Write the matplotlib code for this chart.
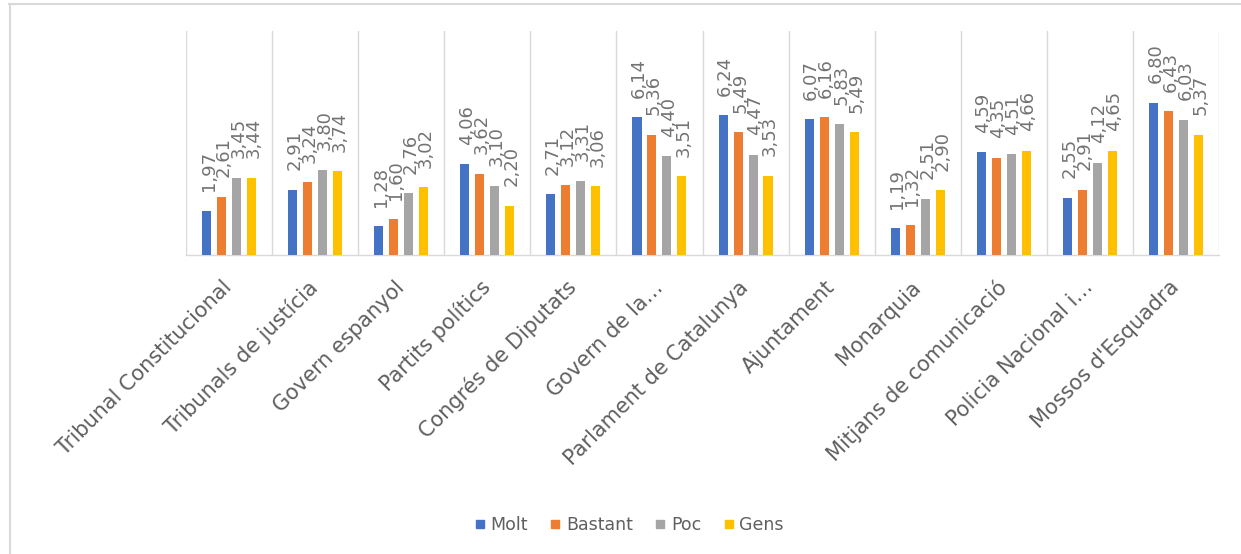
import matplotlib
matplotlib.use("Agg")
import matplotlib.pyplot as plt
from matplotlib.lines import Line2D
import numpy as np

categories = ["Tribunal Constitucional", "Tribunals de justícia", "Govern espanyol",
              "Partits polítics", "Congrés de Diputats", "Govern de la…",
              "Parlament de Catalunya", "Ajuntament", "Monarquia",
              "Mitjans de comunicació", "Policia Nacional i…", "Mossos d'Esquadra"]
series_names = ["Molt", "Bastant", "Poc", "Gens"]
molt = [1.97, 2.91, 1.28, 4.06, 2.71, 6.14, 6.24, 6.07, 1.19, 4.59, 2.55, 6.80]
bastant = [2.61, 3.24, 1.60, 3.62, 3.12, 5.36, 5.49, 6.16, 1.32, 4.35, 2.91, 6.43]
poc = [3.45, 3.80, 2.76, 3.10, 3.31, 4.40, 4.47, 5.83, 2.51, 4.51, 4.12, 6.03]
gens = [3.44, 3.74, 3.02, 2.20, 3.06, 3.51, 3.53, 5.49, 2.90, 4.66, 4.65, 5.37]
colors = ["#4472C4", "#ED7D31", "#A5A5A5", "#FFC000"]

W, H = 1241, 554
fig = plt.figure(figsize=(W / 100, H / 100), dpi=100)
ax = fig.add_axes([186 / W, 1 - 255 / H, (1219 - 186) / W, (255 - 31) / H])

x = np.arange(len(categories))
step = 0.174
bw = 0.105
text_color = "#5f5f5f"
label_color = "#737373"
for i, (vals, c) in enumerate(zip([molt, bastant, poc, gens], colors)):
    xs = x + (i - 1.5) * step
    ax.bar(xs, vals, width=bw, color=c, zorder=3)
    for xi, v in zip(xs, vals):
        ax.annotate(f"{v:.2f}".replace(".", ","), (xi, v), xytext=(1.5, 14),
                    textcoords="offset points", rotation=90, ha="center",
                    va="bottom", fontsize=13, color=label_color,
                    family="DejaVu Sans")

ax.set_xlim(-0.5, len(categories) - 0.5)
ax.set_ylim(0, 10)
for b in np.arange(-0.5, len(categories), 1.0):
    ax.axvline(b, color="#d9d9d9", lw=1, zorder=1)
for s in ["top", "left", "right"]:
    ax.spines[s].set_visible(False)
ax.spines["bottom"].set_color("#d9d9d9")
ax.spines["bottom"].set_linewidth(1)
ax.set_yticks([])
ax.set_xticks(x)
ax.set_xticklabels(categories, rotation=45, ha="right", va="center",
                   rotation_mode="anchor", fontsize=15, color=text_color,
                   family="DejaVu Sans")
ax.tick_params(axis="x", length=0, pad=21)

handles = [Line2D([], [], marker="s", linestyle="none", markersize=6,
                  markerfacecolor=c, markeredgecolor=c) for c in colors]
fig.legend(handles, series_names, loc="center", bbox_to_anchor=(0.507, 1 - 525 / H),
           ncol=4, frameon=False, handlelength=0.6, handletextpad=0.3,
           columnspacing=1.3, prop={"family": "DejaVu Sans", "size": 12.5},
           labelcolor=text_color)

# outer chart border (top and left visible)
fig.add_artist(Line2D([9 / W, 1], [1 - 3.5 / H, 1 - 3.5 / H], color="#d9d9d9", lw=1.5,
                      transform=fig.transFigure))
fig.add_artist(Line2D([10 / W, 10 / W], [0, 1 - 3.5 / H], color="#d9d9d9", lw=1.5,
                      transform=fig.transFigure))

fig.savefig("out.png", dpi=100)
